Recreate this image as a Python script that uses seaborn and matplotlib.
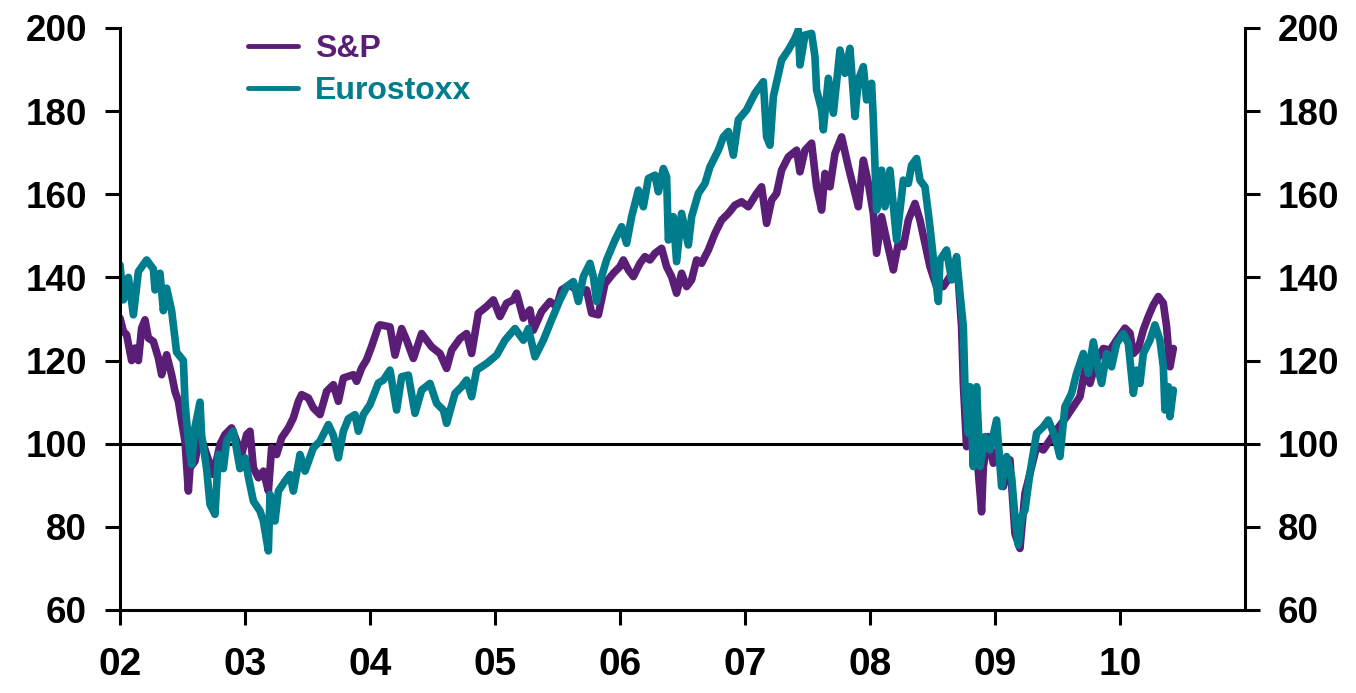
import pandas as pd
import numpy as np
import seaborn as sns
import matplotlib
matplotlib.use("Agg")
import matplotlib.pyplot as plt

sns.set_style("white")
plt.rcParams["font.family"] = ["Liberation Sans", "DejaVu Sans"]
plt.rcParams["font.weight"] = "bold"

# ---------------------------------------------------------------------------------- #
# values (decimal year, index level)

sp_year = [2002.000, 2002.027, 2002.053, 2002.093, 2002.120, 2002.147, 2002.173, 2002.200, 2002.227, 2002.267,
           2002.307, 2002.333, 2002.373, 2002.413, 2002.440, 2002.467, 2002.493, 2002.520, 2002.547, 2002.560,
           2002.600, 2002.640, 2002.693, 2002.747, 2002.800, 2002.840, 2002.893, 2002.933, 2002.973, 2003.013,
           2003.040, 2003.067, 2003.107, 2003.147, 2003.187, 2003.213, 2003.253, 2003.293, 2003.347, 2003.387,
           2003.427, 2003.453, 2003.507, 2003.547, 2003.600, 2003.653, 2003.707, 2003.747, 2003.787, 2003.867,
           2003.893, 2003.933, 2003.973, 2004.013, 2004.067, 2004.080, 2004.160, 2004.200, 2004.253, 2004.293,
           2004.347, 2004.413, 2004.453, 2004.493, 2004.560, 2004.613, 2004.653, 2004.720, 2004.773, 2004.813,
           2004.867, 2004.933, 2004.987, 2005.040, 2005.093, 2005.147, 2005.173, 2005.227, 2005.280, 2005.307,
           2005.373, 2005.440, 2005.493, 2005.533, 2005.600, 2005.680, 2005.733, 2005.773, 2005.827, 2005.880,
           2005.947, 2006.000, 2006.027, 2006.067, 2006.107, 2006.160, 2006.200, 2006.240, 2006.280, 2006.333,
           2006.373, 2006.413, 2006.453, 2006.493, 2006.533, 2006.573, 2006.613, 2006.653, 2006.707, 2006.760,
           2006.813, 2006.867, 2006.920, 2006.973, 2007.027, 2007.093, 2007.133, 2007.173, 2007.213, 2007.253,
           2007.293, 2007.347, 2007.413, 2007.440, 2007.480, 2007.533, 2007.573, 2007.613, 2007.640, 2007.680,
           2007.720, 2007.773, 2007.827, 2007.880, 2007.907, 2007.947, 2007.987, 2008.027, 2008.053, 2008.093,
           2008.133, 2008.187, 2008.227, 2008.267, 2008.307, 2008.360, 2008.400, 2008.440, 2008.480, 2008.533,
           2008.587, 2008.640, 2008.707, 2008.733, 2008.747, 2008.773, 2008.813, 2008.853, 2008.893, 2008.907,
           2008.947, 2008.987, 2009.027, 2009.067, 2009.120, 2009.160, 2009.200, 2009.240, 2009.280, 2009.333,
           2009.387, 2009.440, 2009.493, 2009.573, 2009.627, 2009.680, 2009.720, 2009.760, 2009.813, 2009.867,
           2009.920, 2009.973, 2010.040, 2010.080, 2010.107, 2010.147, 2010.187, 2010.227, 2010.267, 2010.307,
           2010.347, 2010.373, 2010.400, 2010.427]
sp_value = [130.2, 127.0, 126.2, 120.0, 123.0, 120.0, 127.8, 129.8, 125.4, 124.6,
            120.6, 116.6, 121.4, 116.6, 112.6, 110.2, 105.4, 100.6, 88.6, 94.2,
            95.8, 102.2, 97.4, 92.6, 99.8, 102.2, 103.8, 100.6, 97.4, 102.2,
            103.0, 94.2, 91.8, 93.4, 88.6, 99.0, 97.4, 101.4, 103.8, 106.2,
            110.2, 111.8, 111.0, 108.6, 107.0, 112.6, 114.2, 110.2, 115.8, 116.6,
            115.0, 118.2, 120.2, 123.4, 128.2, 128.6, 128.1, 121.3, 127.7, 124.9,
            120.5, 126.5, 124.9, 123.3, 121.7, 118.1, 122.5, 125.3, 126.5, 121.7,
            131.4, 133.0, 134.6, 130.6, 133.8, 134.6, 136.2, 130.2, 132.2, 127.3,
            131.8, 134.2, 133.0, 137.0, 138.2, 136.2, 137.0, 131.4, 131.0, 138.5,
            141.0, 142.6, 144.2, 141.8, 140.2, 143.4, 145.0, 144.2, 145.8, 147.0,
            142.6, 140.2, 136.2, 141.0, 137.8, 139.4, 144.2, 143.4, 146.6, 150.6,
            153.8, 155.4, 157.4, 158.2, 157.0, 160.2, 161.8, 153.0, 158.6, 160.2,
            165.8, 169.0, 170.6, 165.4, 170.6, 172.3, 161.8, 156.2, 165.0, 161.8,
            169.8, 173.8, 166.6, 160.2, 157.0, 168.2, 162.6, 155.4, 145.8, 154.6,
            149.0, 141.8, 148.2, 147.4, 153.8, 157.8, 153.8, 148.2, 142.6, 137.8,
            137.8, 140.2, 139.4, 128.2, 114.5, 99.3, 102.5, 98.5, 83.6, 94.5,
            101.7, 95.3, 98.5, 89.7, 96.1, 78.4, 74.8, 88.0, 92.9, 99.3,
            98.5, 100.9, 103.3, 106.5, 108.9, 111.3, 117.7, 114.5, 120.1, 122.9,
            122.5, 124.9, 127.8, 126.6, 121.7, 122.9, 127.4, 130.6, 133.4, 135.4,
            133.8, 128.2, 118.5, 122.9]

es_year = [2002.000, 2002.027, 2002.067, 2002.107, 2002.147, 2002.213, 2002.267, 2002.280, 2002.320, 2002.347,
           2002.373, 2002.413, 2002.453, 2002.507, 2002.520, 2002.547, 2002.573, 2002.600, 2002.640, 2002.653,
           2002.693, 2002.720, 2002.760, 2002.787, 2002.827, 2002.853, 2002.907, 2002.960, 2003.000, 2003.027,
           2003.067, 2003.120, 2003.147, 2003.187, 2003.200, 2003.240, 2003.267, 2003.320, 2003.360, 2003.387,
           2003.440, 2003.480, 2003.547, 2003.600, 2003.667, 2003.707, 2003.747, 2003.787, 2003.827, 2003.880,
           2003.907, 2003.947, 2004.000, 2004.067, 2004.107, 2004.160, 2004.213, 2004.253, 2004.307, 2004.360,
           2004.413, 2004.480, 2004.533, 2004.587, 2004.613, 2004.680, 2004.733, 2004.773, 2004.813, 2004.853,
           2004.933, 2005.013, 2005.080, 2005.160, 2005.227, 2005.267, 2005.320, 2005.387, 2005.453, 2005.520,
           2005.573, 2005.627, 2005.667, 2005.707, 2005.760, 2005.787, 2005.813, 2005.853, 2005.893, 2005.960,
           2006.013, 2006.053, 2006.093, 2006.147, 2006.187, 2006.227, 2006.280, 2006.307, 2006.347, 2006.373,
           2006.387, 2006.427, 2006.453, 2006.493, 2006.547, 2006.573, 2006.627, 2006.680, 2006.720, 2006.787,
           2006.827, 2006.867, 2006.907, 2006.947, 2007.013, 2007.080, 2007.147, 2007.173, 2007.200, 2007.227,
           2007.293, 2007.347, 2007.400, 2007.427, 2007.440, 2007.480, 2007.533, 2007.560, 2007.573, 2007.613,
           2007.627, 2007.667, 2007.707, 2007.760, 2007.800, 2007.840, 2007.880, 2007.907, 2007.947, 2007.973,
           2008.013, 2008.027, 2008.053, 2008.093, 2008.120, 2008.160, 2008.213, 2008.267, 2008.307, 2008.333,
           2008.373, 2008.400, 2008.440, 2008.480, 2008.520, 2008.547, 2008.560, 2008.613, 2008.653, 2008.693,
           2008.720, 2008.747, 2008.760, 2008.787, 2008.800, 2008.827, 2008.853, 2008.880, 2008.920, 2008.960,
           2009.013, 2009.053, 2009.093, 2009.133, 2009.160, 2009.187, 2009.213, 2009.240, 2009.280, 2009.333,
           2009.387, 2009.427, 2009.480, 2009.520, 2009.560, 2009.613, 2009.653, 2009.707, 2009.747, 2009.787,
           2009.827, 2009.853, 2009.893, 2009.933, 2009.973, 2010.027, 2010.067, 2010.107, 2010.133, 2010.160,
           2010.187, 2010.240, 2010.280, 2010.320, 2010.347, 2010.360, 2010.387, 2010.400, 2010.427]
es_value = [143.0, 134.6, 140.0, 131.0, 141.4, 144.2, 142.0, 137.0, 141.0, 132.0,
            137.4, 132.0, 122.0, 120.0, 110.0, 100.6, 95.0, 104.0, 110.0, 102.0,
            94.0, 85.4, 83.0, 97.4, 94.0, 100.6, 103.0, 94.0, 96.6, 92.0,
            86.2, 83.8, 81.4, 74.2, 87.8, 81.4, 88.6, 91.0, 92.6, 88.6,
            97.4, 93.4, 99.0, 100.6, 104.6, 102.0, 96.6, 103.0, 106.0, 107.0,
            103.0, 107.0, 109.4, 114.6, 115.3, 117.7, 108.1, 116.1, 116.5, 107.3,
            112.9, 114.5, 109.7, 108.1, 104.9, 112.1, 113.7, 115.3, 111.3, 117.7,
            119.3, 121.3, 124.9, 127.7, 124.9, 127.7, 120.9, 124.9, 129.8, 134.6,
            137.8, 139.0, 134.2, 140.2, 143.4, 140.2, 134.2, 140.2, 144.2, 149.0,
            152.2, 148.2, 154.6, 161.0, 157.0, 163.8, 164.6, 160.6, 166.2, 164.2,
            149.0, 154.6, 143.8, 155.4, 147.8, 154.6, 160.2, 162.6, 166.6, 170.6,
            173.8, 175.1, 169.4, 177.9, 180.3, 184.3, 187.1, 173.8, 171.8, 183.5,
            192.3, 194.7, 197.5, 199.5, 191.1, 198.3, 198.7, 193.1, 185.1, 180.3,
            175.5, 187.9, 179.5, 194.7, 189.1, 195.1, 178.7, 187.5, 190.7, 182.7,
            186.7, 177.9, 156.2, 165.8, 157.0, 165.8, 149.0, 163.4, 162.6, 167.0,
            168.6, 163.4, 161.8, 152.2, 141.0, 134.2, 144.2, 146.6, 139.4, 145.0,
            136.2, 128.2, 113.7, 102.5, 113.7, 94.5, 113.7, 94.5, 101.7, 98.5,
            105.7, 89.7, 96.9, 92.1, 82.4, 75.6, 82.4, 84.0, 92.9, 102.5,
            104.1, 105.7, 101.7, 96.9, 108.9, 112.1, 116.9, 121.7, 116.9, 124.5,
            117.7, 114.5, 121.7, 118.5, 124.1, 126.5, 124.1, 112.1, 117.7, 114.5,
            121.7, 124.9, 128.6, 124.9, 118.5, 108.1, 113.7, 106.5, 112.9]

series_names = ["S&P", "Eurostoxx"]
series_colors = ["#5A1E76", "#007D8C"]

year_ticks = [2002, 2003, 2004, 2005, 2006, 2007, 2008, 2009, 2010]
year_labels = ["02", "03", "04", "05", "06", "07", "08", "09", "10"]
y_ticks = [60, 80, 100, 120, 140, 160, 180, 200]

# ---------------------------------------------------------------------------------- #
# long table for seaborn

df = pd.concat([
    pd.DataFrame({"year": sp_year, "value": sp_value, "series": series_names[0]}),
    pd.DataFrame({"year": es_year, "value": es_value, "series": series_names[1]}),
], ignore_index=True)

# ---------------------------------------------------------------------------------- #
# plot

fig = plt.figure(figsize=(13.56, 6.93), dpi=100)
ax = fig.add_axes([0.0885, 0.1198, 0.8296, 0.8398])

ax.axhline(100, color="black", lw=2.2, zorder=1)

sns.lineplot(data=df, x="year", y="value", hue="series", hue_order=series_names,
             palette=series_colors, linewidth=5.5, estimator=None, sort=False,
             ax=ax, zorder=2)

ax.set_xlim(2002, 2011)
ax.set_ylim(60, 200)
ax.set_xticks(year_ticks)
ax.set_xticklabels(year_labels)
ax.set_yticks(y_ticks)
ax.set_xlabel("")
ax.set_ylabel("")

ax.spines["top"].set_visible(False)
for s in ["left", "right", "bottom"]:
    ax.spines[s].set_visible(True)
    ax.spines[s].set_color("black")
    ax.spines[s].set_linewidth(2.2)

ax.tick_params(axis="y", direction="out", length=10.8, width=2.2, left=True, right=True,
               labelleft=True, labelright=True, labelsize=26.5, pad=13, colors="black")
ax.tick_params(axis="x", direction="out", length=10.8, width=2.2, bottom=True,
               labelsize=28, pad=16, colors="black")

handles, labels = ax.get_legend_handles_labels()
leg = ax.legend(handles, labels, loc="upper left", bbox_to_anchor=(0.1138, 0.99),
                frameon=False, fontsize=23, handlelength=1.55, handletextpad=0.55,
                labelspacing=0.38, borderpad=0, borderaxespad=0)
for line in leg.get_lines():
    line.set_linewidth(3.5)
for text, c in zip(leg.get_texts(), series_colors):
    text.set_color(c)
    text.set_fontweight("bold")

fig.savefig("out.png", dpi=100)
